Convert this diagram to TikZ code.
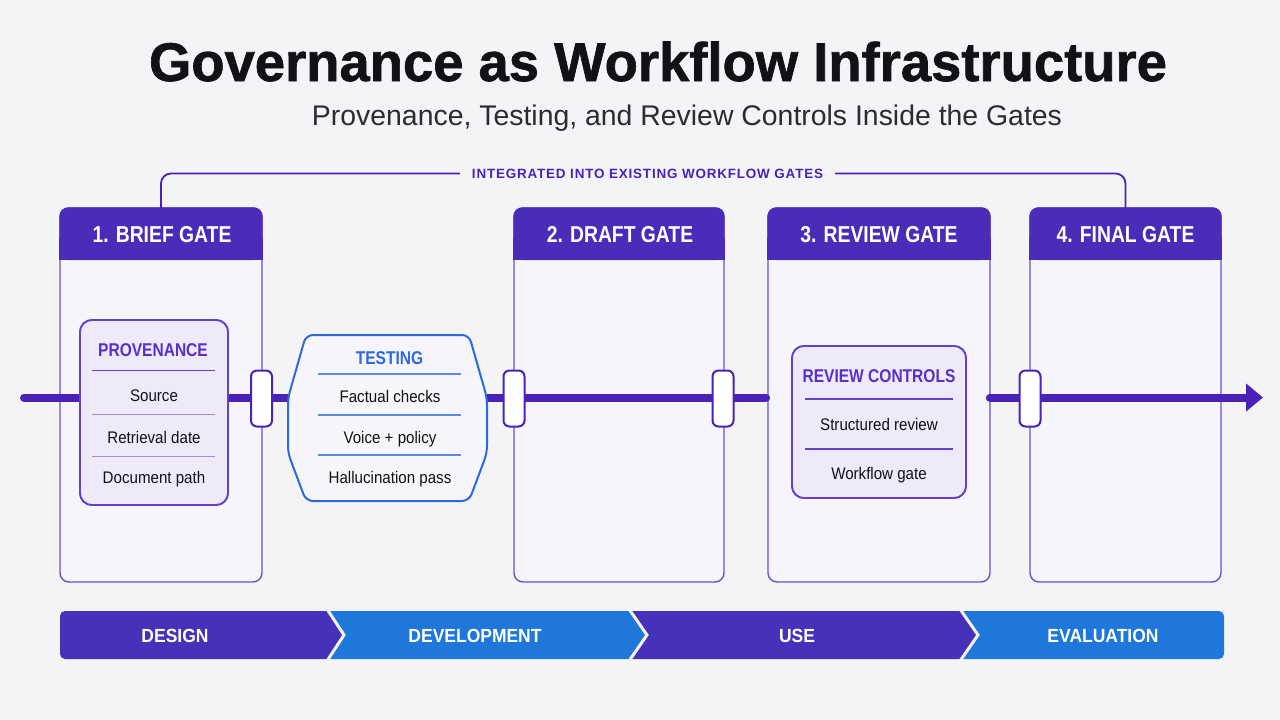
\documentclass[tikz,border=0pt]{standalone}
\usepackage{fontspec}
\setmainfont{Liberation Sans}
\newfontfamily\titlef[FakeBold=1.2]{Liberation Sans}
\newfontfamily\bodyf[FakeStretch=0.9]{Liberation Sans}
\newfontfamily\condf[FakeStretch=0.84]{Liberation Sans}
\newfontfamily\phasef[FakeStretch=0.92]{Liberation Sans}
\newfontfamily\spacedf[LetterSpace=6]{Liberation Sans}
\usetikzlibrary{arrows.meta}
\definecolor{bg}{HTML}{F4F4F7}
\definecolor{pdark}{HTML}{4A2CB9}
\definecolor{pline}{HTML}{4A22B8}
\definecolor{pborder}{HTML}{6A50D0}
\definecolor{pinner}{HTML}{6440CF}
\definecolor{ptitle}{HTML}{5A2FC8}
\definecolor{plight}{HTML}{A08DE8}
\definecolor{lav}{HTML}{EEEAFA}
\definecolor{gatefill}{HTML}{F7F5FC}
\definecolor{tblue}{HTML}{2E6AD8}
\definecolor{tbluel}{HTML}{5A8BE6}
\definecolor{barp}{HTML}{4632B8}
\definecolor{barb}{HTML}{1E77D9}
\definecolor{ink}{HTML}{111118}
\definecolor{subink}{HTML}{2B2B33}
\tikzset{
  gatebox/.style={draw=pborder, line width=1.4pt, fill=gatefill, rounded corners=9pt, minimum height=374pt, inner sep=0pt, outer sep=0pt},
  hdrtext/.style={text=white, font=\condf\bfseries\fontsize{23}{26}\selectfont, text height=16.5pt, text depth=0pt, inner sep=0pt},
  handle/.style={draw=pline, line width=2pt, fill=white, rounded corners=6pt, minimum width=21pt, minimum height=56pt, inner sep=0pt},
  mainline/.style={line width=8pt, draw=pline, line cap=round},
  innerbox/.style={draw=pinner, line width=1.8pt, fill=lav, rounded corners=12pt, inner sep=0pt},
  boxtitle/.style={font=\condf\bfseries\fontsize{18.5}{22}\selectfont, text=ptitle, text height=13.2pt, text depth=0pt, inner sep=0pt},
  item/.style={font=\bodyf\fontsize{16.8}{20}\selectfont, text=ink, text height=12pt, text depth=0pt, inner sep=0pt},
  sepmain/.style={draw=pinner, line width=1.4pt},
  seplight/.style={draw=plight, line width=1pt},
  tsep/.style={draw=tbluel, line width=1.1pt},
  phase/.style={text=white, font=\phasef\bfseries\fontsize{19}{22}\selectfont, text height=13.6pt, text depth=0pt, inner sep=0pt},
  bracket/.style={draw=pline, line width=1.8pt, rounded corners=10pt},
  sepwhite/.style={draw=bg, line width=3pt, line join=miter}
}
\begin{document}
\begin{tikzpicture}[x=1pt,y=-1pt]
\useasboundingbox (0,0) rectangle (1280,720);
\fill[bg] (0,0) rectangle (1280,720);

% titles
\node[anchor=base, inner sep=0pt, text=ink] (title) at (658,81)
  {\resizebox{1018pt}{!}{\titlef\fontsize{50}{60}\selectfont\bfseries Governance as Workflow Infrastructure}};
\node[anchor=base, inner sep=0pt, text=subink] (subtitle) at (687,125)
  {\resizebox{750pt}{!}{\fontsize{26}{30}\selectfont Provenance, Testing, and Review Controls Inside the Gates}};

% gates
\node[gatebox, minimum width=202pt] (g1) at (161,395) {};
\node[gatebox, minimum width=210pt] (g2) at (619,395) {};
\node[gatebox, minimum width=222pt] (g3) at (879,395) {};
\node[gatebox, minimum width=191pt] (g4) at (1125.5,395) {};
\foreach \g in {g1,g2,g3,g4}{
  \fill[pdark, rounded corners=9pt] ([xshift=-0.7pt,yshift=0.7pt]\g.north west) rectangle ([xshift=0.7pt,yshift=-52pt]\g.north east);
  \fill[pdark] ([xshift=-0.7pt,yshift=-30pt]\g.north west) rectangle ([xshift=0.7pt,yshift=-52pt]\g.north east);
}
\node[hdrtext] (h1) at (162,234.5) {1. BRIEF GATE};
\node[hdrtext] (h2) at (620,234.5) {2. DRAFT GATE};
\node[hdrtext] (h3) at (879,234.5) {3. REVIEW GATE};
\node[hdrtext] (h4) at (1125.5,234.5) {4. FINAL GATE};

% bracket
\node[inner xsep=12pt, inner ysep=2pt, text=pline] (lbl) at (647.5,173.5)
  {\resizebox{351pt}{!}{\spacedf\bfseries\fontsize{13}{15}\selectfont INTEGRATED INTO EXISTING WORKFLOW GATES}};
\draw[bracket] (g1.north) |- (lbl.west);
\draw[bracket] (lbl.east) -| (g4.north);

% inner boxes (named first for connectors)
\node[innerbox, minimum width=148pt, minimum height=185pt] (prov) at (154,412.5) {};
\node[minimum width=199pt, minimum height=166pt, inner sep=0pt] (test) at (387.5,418) {};
\node[innerbox, minimum width=174pt, minimum height=152pt] (rc) at (879,422) {};
\coordinate (ls) at (24,397.5);
\coordinate (le) at (1263,397.5);
\coordinate (tw) at (288,397.5);
\coordinate (te) at (487,397.5);

% main line
\draw[mainline] (ls) -- (prov.west |- ls);
\draw[mainline] (prov.east |- ls) -- (tw);
\draw[mainline, shorten >=25pt] (te) -- (rc.west |- ls);
\draw[mainline, shorten <=23pt, -{Triangle[length=17pt,width=27pt]}] (rc.east |- ls) -- (le);

% provenance box
\node[innerbox, minimum width=148pt, minimum height=185pt] at (prov) {};
\node[boxtitle] (provt) at (153,349.5) {PROVENANCE};
\draw[sepmain] (92,370.5) -- (215,370.5);
\node[item] (p1) at (154,395) {Source};
\draw[seplight] (92,414) -- (215,414);
\node[item] (p2) at (154,437) {Retrieval date};
\draw[seplight] (92,456) -- (215,456);
\node[item] (p3) at (154,477) {Document path};

% testing octagon
\draw[draw=tblue, line width=2pt, fill=gatefill, rounded corners=7pt]
  (306,335) -- (469,335) -- (487,398) -- (487,453) -- (469,501) -- (306,501) -- (288,453) -- (288,398) -- cycle;
\node[boxtitle, text=tblue] (testt) at (389.5,357.5) {TESTING};
\draw[tsep] (318,374) -- (461,374);
\node[item] (t1) at (390,396) {Factual checks};
\draw[tsep] (318,415) -- (461,415);
\node[item] (t2) at (390,437) {Voice + policy};
\draw[tsep] (318,455) -- (461,455);
\node[item] (t3) at (390,477) {Hallucination pass};

% review controls box
\node[innerbox, minimum width=174pt, minimum height=152pt] at (rc) {};
\node[boxtitle] (rct) at (879,376) {REVIEW CONTROLS};
\draw[sepmain] (805,399) -- (953,399);
\node[item] (r1) at (879,424.5) {Structured review};
\draw[sepmain, line width=1.1pt] (805,449) -- (953,449);
\node[item] (r2) at (879,473) {Workflow gate};

% handles
\node[handle] (hd1) at (261.5,398.5) {};
\node[handle] (hd2) at (514,398.5) {};
\node[handle] (hd3) at (723,398.5) {};
\node[handle] (hd4) at (1030,398.5) {};

% phase bar
\fill[barp, rounded corners=5pt] (60,611) -- (60,659) -- (200,659) [sharp corners] -- (328,659) -- (344,635) -- (328,611) -- (200,611) [rounded corners=5pt] -- cycle;
\fill[barb] (328,611) -- (630,611) -- (648,635) -- (630,659) -- (328,659) -- (344,635) -- cycle;
\fill[barp] (630,611) -- (961,611) -- (979,635) -- (961,659) -- (630,659) -- (648,635) -- cycle;
\fill[barb, rounded corners=5pt] (1224,611) -- (1224,659) -- (1100,659) [sharp corners] -- (961,659) -- (979,635) -- (961,611) -- (1100,611) [rounded corners=5pt] -- cycle;
\draw[sepwhite] (327,609) -- (344,635) -- (327,661);
\draw[sepwhite] (629,609) -- (647,635) -- (629,661);
\draw[sepwhite] (960,609) -- (978,635) -- (960,661);
\node[phase] (ph1) at (175,636) {DESIGN};
\node[phase] (ph2) at (475,636) {DEVELOPMENT};
\node[phase] (ph3) at (797,636) {USE};
\node[phase] (ph4) at (1103,636) {EVALUATION};
\end{tikzpicture}
\end{document}
